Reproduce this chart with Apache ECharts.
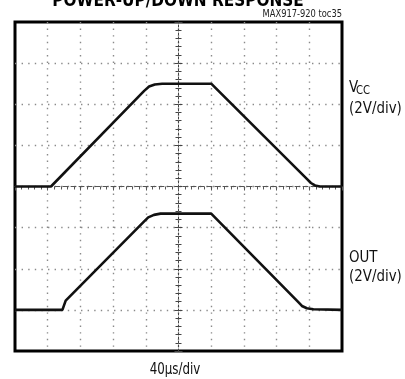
<!DOCTYPE html>
<html>
<head>
<meta charset="utf-8">
<script src="https://cdn.jsdelivr.net/npm/echarts@6/dist/echarts.min.js"></script>
<style>
  html, body { margin: 0; padding: 0; background: #fff; }
  #chart { width: 405px; height: 379px; }
</style>
</head>
<body>
<div id="chart"></div>
<script>
// Scope screen: 10 horizontal divisions of 40 µs, 8 vertical divisions of 2 V.
const timeDivs = 10;
const usPerDiv = 40;
const voltDivs = 8;
const voltsPerDiv = 2;

// Channel ground positions, in divisions above the bottom edge.
const vccGroundDiv = 4;
const outGroundDiv = 1;

// V_CC ramp: time (µs) and level (V).
const vccTime  = [0, 44, 158, 164, 171, 180, 240, 357, 362, 367, 373, 400];
const vccVolts = [0, 0, 4.65, 4.86, 4.96, 5.0, 5.0, 0.37, 0.17, 0.05, 0, 0];

// Comparator output: time (µs) and level (V).
const outTime  = [0, 58, 60, 62, 158, 163, 170, 178, 240, 346, 351, 357, 365, 400];
const outVolts = [0, 0, 0.05, 0.45, 4.3, 4.5, 4.62, 4.68, 4.68, 0.4, 0.19, 0.08, 0.03, 0];

const titleText  = 'POWER-UP/DOWN RESPONSE';
const partNumber = 'MAX917-920 toc35';
const timeScale  = '40µs/div';
const vccName    = 'V';
const vccSub     = 'CC';
const outName    = 'OUT';
const voltScale  = '(2V/div)';

const FONT = "'Liberation Sans Narrow', 'DejaVu Sans Condensed', 'Liberation Sans', sans-serif";
const dotGrid = { color: '#8a8a8a', width: 1.4, type: [1.4, 5.2] };

const pair = (xs, ys) => xs.map((x, i) => [x, ys[i]]);

const chart = echarts.init(document.getElementById('chart'), null, { renderer: 'canvas' });

chart.setOption({
  animation: false,
  backgroundColor: '#fff',
  grid: {
    left: 15, right: 63, top: 22, bottom: 28,
    show: true, borderColor: '#000', borderWidth: 3, backgroundColor: 'transparent'
  },
  xAxis: [
    { // time axis carrying the vertical graticule
      type: 'value', min: 0, max: timeDivs * usPerDiv, interval: usPerDiv,
      axisLine: { show: false, onZero: false }, axisTick: { show: false }, axisLabel: { show: false },
      splitLine: { show: true, showMinLine: false, showMaxLine: false, lineStyle: dotGrid }
    },
    { // division axis whose line is the horizontal centre line
      type: 'value', min: -timeDivs / 2, max: timeDivs / 2, interval: 1,
      axisLine: { show: true, onZero: true, onZeroAxisIndex: 2, lineStyle: { color: '#555', width: 1, type: [5, 3] } },
      axisTick: { show: true, inside: true, length: 4, lineStyle: { color: '#555' } },
      minorTick: { show: true, splitNumber: 5, length: 3, lineStyle: { color: '#555' } },
      axisLabel: { show: false }, splitLine: { show: false }
    }
  ],
  yAxis: [
    { // V_CC channel
      type: 'value', show: false,
      min: -vccGroundDiv * voltsPerDiv, max: (voltDivs - vccGroundDiv) * voltsPerDiv,
      splitLine: { show: false }
    },
    { // OUT channel
      type: 'value', show: false,
      min: -outGroundDiv * voltsPerDiv, max: (voltDivs - outGroundDiv) * voltsPerDiv,
      splitLine: { show: false }
    },
    { // division axis: horizontal graticule and vertical centre line
      type: 'value', min: -voltDivs / 2, max: voltDivs / 2, interval: 1,
      axisLine: { show: true, onZero: true, onZeroAxisIndex: 1, lineStyle: { color: '#444', width: 1, type: [2, 2] } },
      axisTick: { show: true, length: 4, lineStyle: { color: '#444' } },
      minorTick: { show: true, splitNumber: 5, length: 3, lineStyle: { color: '#444' } },
      axisLabel: { show: false },
      splitLine: { show: true, showMinLine: false, showMaxLine: false, lineStyle: dotGrid }
    },
    { // ticks on the other side of the vertical centre line
      type: 'value', min: -voltDivs / 2, max: voltDivs / 2, interval: 1,
      axisLine: { show: false, onZero: true, onZeroAxisIndex: 1 },
      axisTick: { show: true, inside: true, length: 4, lineStyle: { color: '#444' } },
      minorTick: { show: true, splitNumber: 5, length: 3, lineStyle: { color: '#444' } },
      axisLabel: { show: false }, splitLine: { show: false }
    }
  ],
  series: [
    {
      name: 'VCC', type: 'line', xAxisIndex: 0, yAxisIndex: 0,
      data: pair(vccTime, vccVolts), showSymbol: false, symbol: 'none',
      lineStyle: { color: '#111', width: 2.6 }, z: 5
    },
    {
      name: 'OUT', type: 'line', xAxisIndex: 0, yAxisIndex: 1,
      data: pair(outTime, outVolts), showSymbol: false, symbol: 'none',
      lineStyle: { color: '#111', width: 2.6 }, z: 5
    }
  ],
  graphic: [
    { type: 'text', x: 178, y: -7, style: { text: titleText, font: `bold 17px ${FONT}`, fill: '#000', align: 'center', verticalAlign: 'top' } },
    { type: 'text', x: 342, y: 9, scaleX: 0.88, style: { text: partNumber, font: `10.5px ${FONT}`, fill: '#222', align: 'right', verticalAlign: 'top' } },
    { type: 'text', x: 349, y: 80, scaleX: 0.93, style: { text: vccName, font: `16px ${FONT}`, fill: '#111', verticalAlign: 'top' } },
    { type: 'text', x: 356, y: 85, scaleX: 0.93, style: { text: vccSub, font: `12px ${FONT}`, fill: '#111', verticalAlign: 'top' } },
    { type: 'text', x: 349, y: 101, scaleX: 0.93, style: { text: voltScale, font: `16px ${FONT}`, fill: '#111', verticalAlign: 'top' } },
    { type: 'text', x: 349, y: 250, scaleX: 0.93, style: { text: outName, font: `16px ${FONT}`, fill: '#111', verticalAlign: 'top' } },
    { type: 'text', x: 349, y: 269, scaleX: 0.93, style: { text: voltScale, font: `16px ${FONT}`, fill: '#111', verticalAlign: 'top' } },
    { type: 'text', x: 175, y: 363, scaleX: 0.88, style: { text: timeScale, font: `15px ${FONT}`, fill: '#111', align: 'center', verticalAlign: 'top' } }
  ]
});
</script>
</body>
</html>
